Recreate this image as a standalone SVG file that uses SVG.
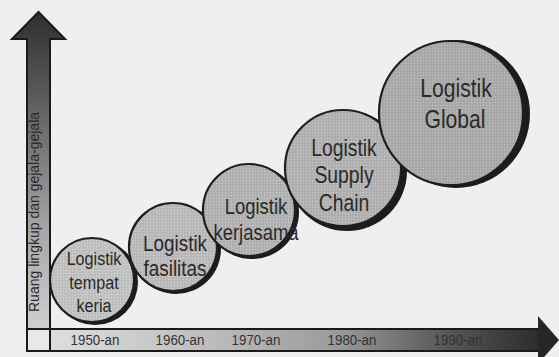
<svg xmlns="http://www.w3.org/2000/svg" width="559" height="357" viewBox="0 0 559 357">
<defs>
<linearGradient id="gv" x1="0" y1="0" x2="0" y2="1">
<stop offset="0" stop-color="#2e2e2e"/>
<stop offset="0.35" stop-color="#6a6a6a"/>
<stop offset="0.7" stop-color="#a8a8a8"/>
<stop offset="1" stop-color="#cfcfcf"/>
</linearGradient>
<linearGradient id="gh" gradientUnits="userSpaceOnUse" x1="27" y1="0" x2="545" y2="0">
<stop offset="0" stop-color="#e2e2e2"/>
<stop offset="0.35" stop-color="#bdbdbd"/>
<stop offset="0.6" stop-color="#9a9a9a"/>
<stop offset="0.8" stop-color="#5a5a5a"/>
<stop offset="1" stop-color="#2a2a2a"/>
</linearGradient>
<pattern id="dots" width="3" height="3" patternUnits="userSpaceOnUse">
<rect x="0" y="0" width="1" height="1" fill="#ffffff" fill-opacity="0.25"/>
<rect x="1.5" y="1.5" width="1" height="1" fill="#000000" fill-opacity="0.12"/>
</pattern>
</defs>
<style>
.shadow{fill:#1c1c1c}
.disc{stroke:#1e1e1e;stroke-width:2.2}
.tex{fill:url(#dots)}
.lbl{font-family:"Liberation Sans",Arial,sans-serif;fill:#2a2a2a;text-anchor:middle}
.yr{font-family:"Liberation Sans",Arial,sans-serif;font-size:14px;fill:#333;text-anchor:middle}
.ax{stroke:#1a1a1a;stroke-width:2}
</style>
<rect x="0" y="0" width="559" height="357" fill="#efefef"/>

<g id="axes">
<path class="ax" d="M27,39 L12,39 L38.5,12 L65,39 L50,39 L50,329 L27,329 Z" fill="url(#gv)"/>
<rect class="ax" x="27" y="329" width="23" height="22" fill="#e8e8e8"/>
<rect class="ax" x="50" y="329" width="490" height="22" fill="url(#gh)"/>
<polygon points="538,316 559,340 538,364" fill="#262626"/>
<text class="lbl" font-size="14" transform="translate(38.5,212) rotate(-90)" fill="#333">Ruang lingkup dan gejala-gejala</text>
<text class="yr" transform="translate(95,345) scale(0.95,1.1)">1950-an</text>
<text class="yr" transform="translate(180,345) scale(0.95,1.1)">1960-an</text>
<text class="yr" transform="translate(256,345) scale(0.95,1.1)">1970-an</text>
<text class="yr" transform="translate(352,345) scale(0.95,1.1)" fill="#444">1980-an</text>
<text class="yr" transform="translate(458,345) scale(0.95,1.1)" fill="#3a3a3a">1990-an</text>
</g>

<g id="node-tempat-kerja">
<circle class="shadow" cx="95" cy="282" r="43"/>
<circle class="disc" cx="92" cy="280" r="42" fill="#c3c3c3"/>
<circle class="tex" cx="92" cy="280" r="41"/>
<text class="lbl" font-size="17" transform="translate(94,265) scale(0.95,1.08)">Logistik</text>
<text class="lbl" font-size="17" transform="translate(94,289) scale(0.95,1.08)">tempat</text>
<text class="lbl" font-size="17" transform="translate(94,312) scale(0.95,1.08)">keria</text>
</g>

<g id="node-fasilitas">
<circle class="shadow" cx="176" cy="249" r="45"/>
<circle class="disc" cx="173" cy="247" r="44" fill="#bcbcbc"/>
<circle class="tex" cx="173" cy="247" r="43"/>
<text class="lbl" font-size="21" transform="translate(175,251) scale(0.9,1.08)">Logistik</text>
<text class="lbl" font-size="21" transform="translate(175,276) scale(0.9,1.08)">fasilitas</text>
</g>

<g id="node-kerjasama">
<circle class="shadow" cx="252" cy="212" r="47"/>
<circle class="disc" cx="249" cy="210" r="46" fill="#b4b4b4"/>
<circle class="tex" cx="249" cy="210" r="45"/>
<text class="lbl" font-size="21" transform="translate(256,214) scale(0.88,1.08)">Logistik</text>
<text class="lbl" font-size="21" transform="translate(256,240) scale(0.88,1.08)">kerjasama</text>
</g>

<g id="node-supply-chain">
<circle class="shadow" cx="347" cy="171" r="60"/>
<circle class="disc" cx="343" cy="168" r="58" fill="#b3b3b3"/>
<circle class="tex" cx="343" cy="168" r="57"/>
<text class="lbl" font-size="22" transform="translate(344,156) scale(0.88,1.08)">Logistik</text>
<text class="lbl" font-size="22" transform="translate(344,183) scale(0.88,1.08)">Supply</text>
<text class="lbl" font-size="22" transform="translate(344,211) scale(0.88,1.08)">Chain</text>
</g>

<g id="node-global">
<circle class="shadow" cx="456" cy="114" r="74"/>
<circle class="disc" cx="451" cy="113" r="72" fill="#ababab"/>
<circle class="tex" cx="451" cy="113" r="71"/>
<text class="lbl" font-size="24" transform="translate(456,97) scale(0.88,1.08)">Logistik</text>
<text class="lbl" font-size="24" transform="translate(455,128) scale(0.88,1.08)">Global</text>
</g>
</svg>
